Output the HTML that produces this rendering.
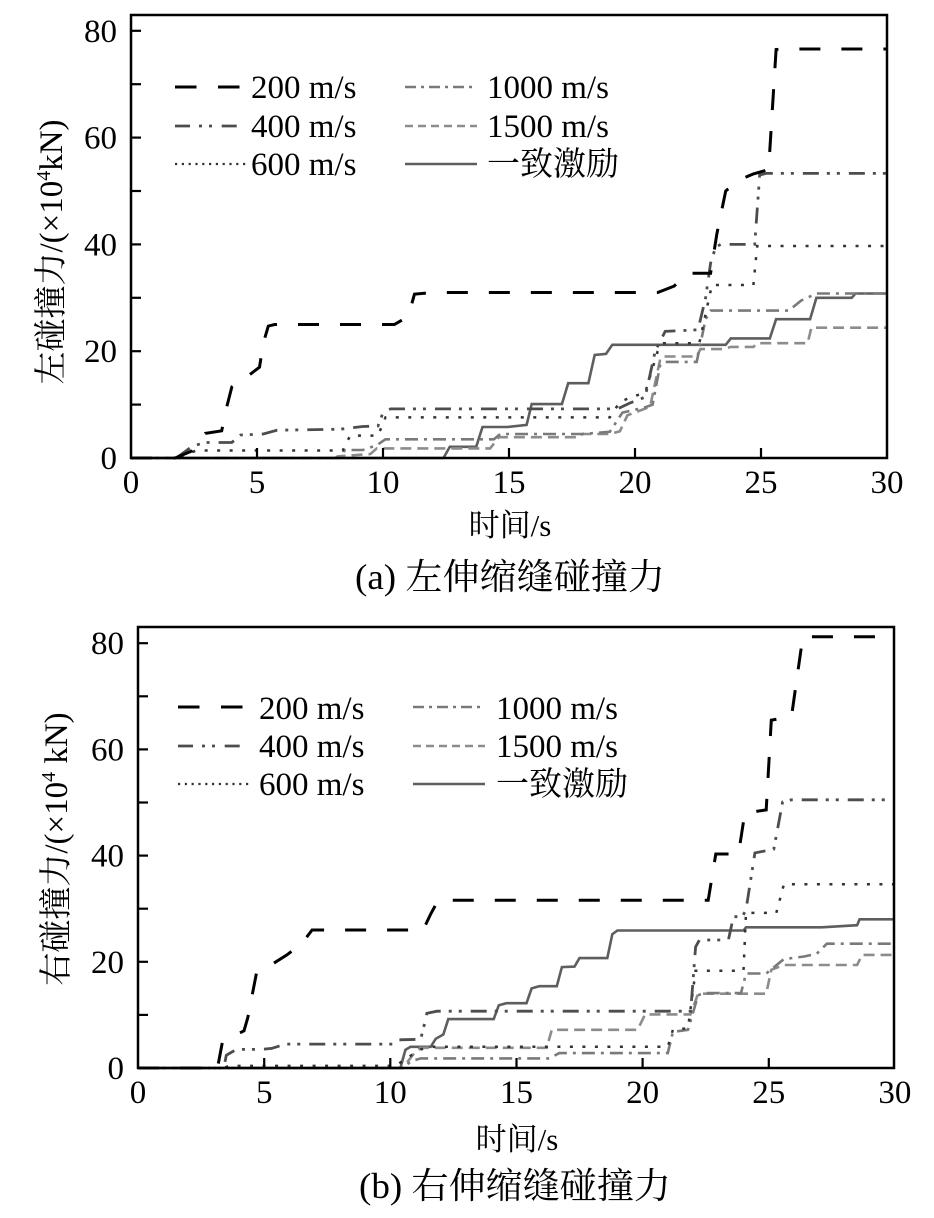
<!DOCTYPE html>
<html>
<head>
<meta charset="utf-8">
<style>
html,body{margin:0;padding:0;background:#fff;}
svg{display:block;}
text{font-family:"Liberation Serif","Noto Serif CJK SC",serif;fill:#000;}
</style>
</head>
<body>
<svg width="934" height="1218" viewBox="0 0 934 1218" xmlns="http://www.w3.org/2000/svg">
<rect x="0" y="0" width="934" height="1218" fill="#fff"/>

<!-- ================= Chart (a) ================= -->
<g fill="none" stroke-linejoin="miter">
  <polyline points="131,458 443.5,458 449.8,446.8 476.2,446.8 482.5,427 507.7,427 526.6,424.9 531.7,404.1 561.9,404.1 568.2,383.2 588.4,383.2 594.7,354.9 606,353.9 612.3,344.8 725.7,344.8 730.8,338.4 769.8,338.4 776.1,319.2 810.1,319.2 816.4,297.8 851.7,297.8 855.5,293.5 887,293.5" stroke="#5e5e5e" stroke-width="2.6"/>
  <polyline points="131,458 335.1,458 337.6,456.4 370.4,454 376.7,448.4 490.1,448.4 498.9,437.2 579.6,437.2 582.1,434 609.8,434 619.9,431.3 627.4,415.3 650.1,406.7 660.2,359.2 662.7,356.5 696.7,356.5 700.5,349.1 723.2,349.1 730.8,346.9 753.4,346.9 757.2,343.2 807.6,343.2 811.4,327.7 887,327.7" stroke="#8c8c8c" stroke-width="2.6" stroke-dasharray="11 6"/>
  <polyline points="131,458 337.6,458 345.2,450 362.8,450 376.7,445.2 385.5,439.3 493.9,439.3 500.2,434 582.1,434 609.8,431.8 622.4,412.6 645.1,407.3 652.6,404.6 660.2,364.6 665.2,361.9 696.7,361.9 705.6,319.2 710.6,310.6 788.7,310.6 801.3,300.5 816.4,293.5 887,293.5" stroke="#7a7a7a" stroke-width="2.6" stroke-dasharray="13 6 3 6"/>
  <polyline points="131,458 176.4,458 196.5,450.5 342.7,450.5 350.2,435.6 378,435.6 385.5,417.4 609.8,417.4 619.9,401.9 632.5,396.6 645.1,392.9 657.7,351.2 662.7,343.2 699.3,343.2 711.9,285 753.4,285 757.2,246 887,246" stroke="#333" stroke-width="2.5" stroke-dasharray="3 9.5"/>
  <polyline points="131,458 176.4,458 191.5,446.8 204.1,442.5 231.8,442.5 240.6,435 263.3,434 277.2,430.2 340.2,429.2 362.8,426.5 378,426 383,412.6 390.6,408.9 617.4,408.9 630,403 645.1,397.1 655.2,351.2 665.2,331.4 698,329.8 705.6,297.8 710.6,263.1 715.6,247.1 720.7,244.4 754.7,244.4 759.7,175 766,173.4 887,173.4" stroke="#4d4d4d" stroke-width="2.8" stroke-dasharray="16 8 3 7 3 9"/>
  <polyline points="131,458 175.1,458 191.5,451.1 205.3,433.4 221.7,430.8 226.8,406.7 231.8,387 246.9,376.8 259.5,367.2 263.3,343.2 268.3,326.1 274.6,324.5 394.3,324.5 408.2,316.5 414.5,294.1 433.4,292.5 657.7,292.5 674.1,286.1 687.9,273.2 710.6,273.2 716.9,233.7 725.7,191 738.3,180.3 753.4,173.9 768.6,169.6 776.1,49.5 786.2,49 887,49" stroke="#000" stroke-width="3" stroke-dasharray="21 21"/>
</g>

<!-- frame (a) -->
<rect x="131" y="15" width="756" height="443" fill="none" stroke="#000" stroke-width="2.5"/>
<g stroke="#000" stroke-width="2.2">
  <line x1="131" y1="30.8" x2="141" y2="30.8"/>
  <line x1="131" y1="84.2" x2="141" y2="84.2"/>
  <line x1="131" y1="137.6" x2="141" y2="137.6"/>
  <line x1="131" y1="191" x2="141" y2="191"/>
  <line x1="131" y1="244.4" x2="141" y2="244.4"/>
  <line x1="131" y1="297.8" x2="141" y2="297.8"/>
  <line x1="131" y1="351.2" x2="141" y2="351.2"/>
  <line x1="131" y1="404.6" x2="141" y2="404.6"/>
  <line x1="257" y1="458" x2="257" y2="448"/>
  <line x1="383" y1="458" x2="383" y2="448"/>
  <line x1="509" y1="458" x2="509" y2="448"/>
  <line x1="635" y1="458" x2="635" y2="448"/>
  <line x1="761" y1="458" x2="761" y2="448"/>
</g>
<g font-size="33" text-anchor="end">
  <text x="117" y="469">0</text>
  <text x="117" y="362.2">20</text>
  <text x="117" y="255.4">40</text>
  <text x="117" y="148.6">60</text>
  <text x="117" y="41.8">80</text>
</g>
<g font-size="33" text-anchor="middle">
  <text x="131" y="493">0</text>
  <text x="257" y="493">5</text>
  <text x="383" y="493">10</text>
  <text x="509" y="493">15</text>
  <text x="635" y="493">20</text>
  <text x="761" y="493">25</text>
  <text x="887" y="493">30</text>
</g>
<text font-size="33" text-anchor="middle" transform="translate(62,252) rotate(-90)">左碰撞力/(×10<tspan font-size="20" dy="-12">4</tspan><tspan dy="12">kN)</tspan></text>
<text font-size="31" text-anchor="middle" x="510" y="536">时间/s</text>
<text font-size="36" x="355" y="589" textLength="310" lengthAdjust="spacingAndGlyphs">(a) 左伸缩缝碰撞力</text>

<!-- legend (a) -->
<g fill="none">
  <line x1="175" y1="87" x2="240" y2="87" stroke="#000" stroke-width="3" stroke-dasharray="21.5 21.5"/>
  <line x1="175" y1="126" x2="238" y2="126" stroke="#4d4d4d" stroke-width="2.8" stroke-dasharray="15 9 3 7 3 9.7"/>
  <line x1="175" y1="164" x2="247" y2="164" stroke="#333" stroke-width="2.2" stroke-dasharray="2.2 4.6"/>
  <line x1="405" y1="87" x2="477" y2="87" stroke="#7a7a7a" stroke-width="2.6" stroke-dasharray="11 5 3 5"/>
  <line x1="405" y1="126" x2="477" y2="126" stroke="#8c8c8c" stroke-width="2.6" stroke-dasharray="8 5"/>
  <line x1="405" y1="164" x2="477" y2="164" stroke="#5e5e5e" stroke-width="2.6"/>
</g>
<g font-size="33">
  <text x="251" y="98">200 m/s</text>
  <text x="251" y="137">400 m/s</text>
  <text x="251" y="175">600 m/s</text>
  <text x="487" y="98">1000 m/s</text>
  <text x="487" y="137">1500 m/s</text>
  <text x="487" y="175">一致激励</text>
</g>

<!-- ================= Chart (b) ================= -->
<g fill="none" stroke-linejoin="miter">
  <polyline points="138,1068 400.4,1068 405.4,1049.9 410.5,1046.8 430.7,1046.8 435.7,1038.8 443.3,1034.5 448.3,1019.1 493.7,1019.1 498.8,1005.3 506.4,1003.2 526.5,1003.2 531.6,988.4 539.2,986.2 556.8,986.2 561.9,967.1 574.5,966.6 579.5,958.1 607.3,958.1 612.3,934.2 617.4,930.5 743.5,930.5 746,927.3 821.7,927.3 857.1,925.2 859.6,919.3 894,919.3" stroke="#5e5e5e" stroke-width="2.6"/>
  <polyline points="138,1068 402.9,1068 413,1054.7 420.6,1047.8 546.7,1047.8 551.8,1029.8 637.6,1029.8 645.1,1014.4 690.5,1014.4 698.1,993.7 766.2,993.7 771.3,969.8 783.9,965 857.1,965 862.1,954.9 894,954.9" stroke="#8c8c8c" stroke-width="2.6" stroke-dasharray="11 6"/>
  <polyline points="138,1068 402.9,1068 410.5,1061.6 420.6,1058.4 549.2,1058.4 559.3,1053.1 667.8,1053.1 672.9,1031.9 688,1029.8 698.1,995.3 703.2,993.1 741,993.1 746,973.5 766.2,973.5 783.9,959.1 804.1,956.5 816.7,953.8 826.8,943.7 894,943.7" stroke="#7a7a7a" stroke-width="2.6" stroke-dasharray="13 6 3 6"/>
  <polyline points="138,1068 223.8,1068 228.8,1065.9 395.3,1065.9 408,1057.4 420.6,1049.4 433.2,1046.8 667.8,1046.8 672.9,1029.8 688,1028.2 695.6,970.8 743.5,970.8 746,912.9 776.3,912.9 783.9,884.3 894,884.3" stroke="#333" stroke-width="2.5" stroke-dasharray="3 9.5"/>
  <polyline points="138,1068 223.8,1068 226.3,1055.3 236.4,1049.4 260.4,1049.4 271.7,1048.4 285.6,1044.1 392.8,1044.1 396.6,1039.9 420.6,1039.3 423.1,1029.8 426.9,1013.3 437,1011.2 690.5,1011.2 691.8,996.8 695.6,946.9 699.4,940 728.4,940 733.4,916.7 742.3,916.7 746,909.8 754.9,852.9 773.8,849.2 782.6,802 791.5,799.8 894,799.8" stroke="#4d4d4d" stroke-width="2.8" stroke-dasharray="16 8 3 7 3 9"/>
  <polyline points="138,1068 217.5,1068 222.5,1041.5 244,1030.8 247.8,1017.6 256.6,972.4 271.7,964.5 286.9,954.9 302,943.2 312.1,930 423.1,930 430.7,914 438.2,900.2 708.2,900.2 715.8,854 738.5,854 744.8,813.1 766.2,809.9 771.3,720.2 791.5,716.5 802.8,636.8 894,636.8" stroke="#000" stroke-width="3" stroke-dasharray="21 21"/>
</g>

<!-- frame (b) -->
<rect x="138" y="627" width="756" height="441" fill="none" stroke="#000" stroke-width="2.5"/>
<g stroke="#000" stroke-width="2.2">
  <line x1="138" y1="643.2" x2="148" y2="643.2"/>
  <line x1="138" y1="696.3" x2="148" y2="696.3"/>
  <line x1="138" y1="749.4" x2="148" y2="749.4"/>
  <line x1="138" y1="802.5" x2="148" y2="802.5"/>
  <line x1="138" y1="855.6" x2="148" y2="855.6"/>
  <line x1="138" y1="908.7" x2="148" y2="908.7"/>
  <line x1="138" y1="961.8" x2="148" y2="961.8"/>
  <line x1="138" y1="1014.9" x2="148" y2="1014.9"/>
  <line x1="264.2" y1="1068" x2="264.2" y2="1058"/>
  <line x1="390.3" y1="1068" x2="390.3" y2="1058"/>
  <line x1="516.5" y1="1068" x2="516.5" y2="1058"/>
  <line x1="642.6" y1="1068" x2="642.6" y2="1058"/>
  <line x1="768.8" y1="1068" x2="768.8" y2="1058"/>
</g>
<g font-size="33" text-anchor="end">
  <text x="124" y="1079">0</text>
  <text x="124" y="972.8">20</text>
  <text x="124" y="866.6">40</text>
  <text x="124" y="760.4">60</text>
  <text x="124" y="654.2">80</text>
</g>
<g font-size="33" text-anchor="middle">
  <text x="138" y="1103">0</text>
  <text x="264.2" y="1103">5</text>
  <text x="390.3" y="1103">10</text>
  <text x="516.5" y="1103">15</text>
  <text x="642.6" y="1103">20</text>
  <text x="768.8" y="1103">25</text>
  <text x="894.9" y="1103">30</text>
</g>
<text font-size="33" text-anchor="middle" transform="translate(67,849) rotate(-90)">右碰撞力/(×10<tspan font-size="20" dy="-12">4</tspan><tspan dy="12"> kN)</tspan></text>
<text font-size="31" text-anchor="middle" x="517" y="1150">时间/s</text>
<text font-size="36" x="359" y="1198" textLength="312" lengthAdjust="spacingAndGlyphs">(b) 右伸缩缝碰撞力</text>

<!-- legend (b) -->
<g fill="none">
  <line x1="178" y1="707" x2="244" y2="707" stroke="#000" stroke-width="3" stroke-dasharray="21.5 21.5"/>
  <line x1="178" y1="746" x2="243" y2="746" stroke="#4d4d4d" stroke-width="2.8" stroke-dasharray="15 9 3 7 3 9.7"/>
  <line x1="178" y1="784" x2="250" y2="784" stroke="#333" stroke-width="2.2" stroke-dasharray="2.2 4.6"/>
  <line x1="413" y1="707" x2="485" y2="707" stroke="#7a7a7a" stroke-width="2.6" stroke-dasharray="11 5 3 5"/>
  <line x1="413" y1="746" x2="485" y2="746" stroke="#8c8c8c" stroke-width="2.6" stroke-dasharray="8 5"/>
  <line x1="413" y1="784" x2="485" y2="784" stroke="#5e5e5e" stroke-width="2.6"/>
</g>
<g font-size="33">
  <text x="259" y="719">200 m/s</text>
  <text x="259" y="757">400 m/s</text>
  <text x="259" y="795">600 m/s</text>
  <text x="496" y="719">1000 m/s</text>
  <text x="496" y="757">1500 m/s</text>
  <text x="496" y="795">一致激励</text>
</g>
</svg>
</body>
</html>
